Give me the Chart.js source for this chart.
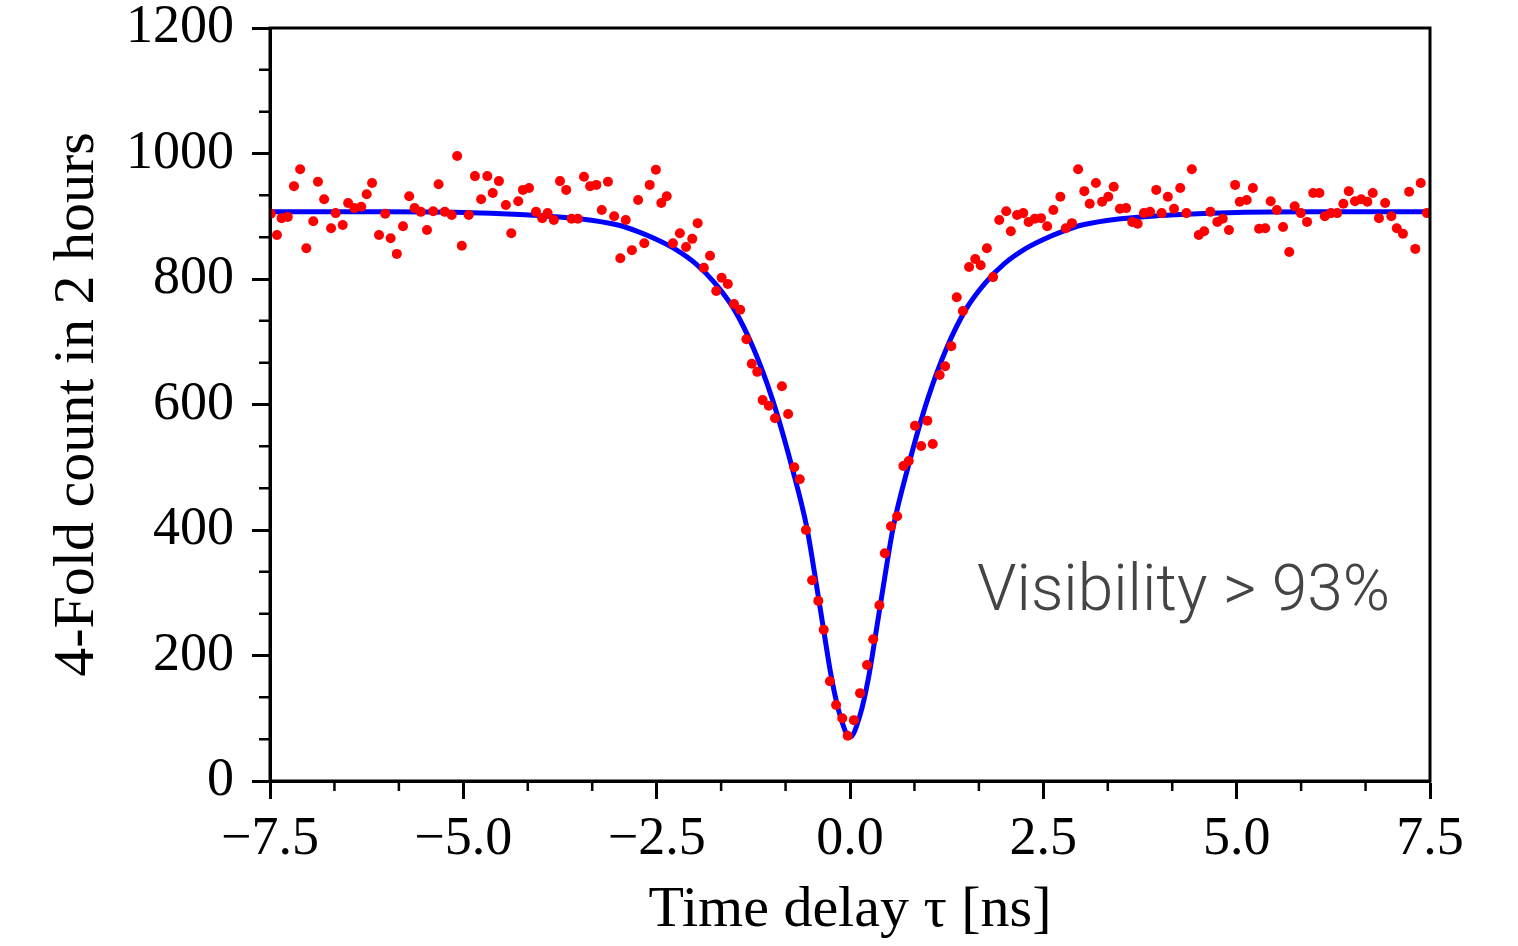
<!DOCTYPE html>
<html>
<head>
<meta charset="utf-8">
<script src="https://cdn.jsdelivr.net/npm/chart.js@4"></script>
<style>
  body { margin: 0; background: #fff; }
  canvas { display: block; }
</style>
</head>
<body>
<canvas id="dipChart" width="1518" height="946"></canvas>
<script>
const timeNs = [
  -7.49, -7.41, -7.35, -7.27, -7.19, -7.11, -7.03, -6.94, -6.88, -6.80,
  -6.71, -6.65, -6.56, -6.49, -6.41, -6.32, -6.25, -6.18, -6.09, -6.01,
  -5.94, -5.86, -5.78, -5.70, -5.63, -5.55, -5.47, -5.39, -5.32, -5.24,
  -5.15, -5.08, -5.02, -4.93, -4.85, -4.77, -4.69, -4.62, -4.54, -4.45,
  -4.38, -4.29, -4.23, -4.15, -4.06, -3.98, -3.91, -3.83, -3.75, -3.67,
  -3.60, -3.52, -3.44, -3.36, -3.28, -3.21, -3.13, -3.05, -2.97, -2.90,
  -2.82, -2.74, -2.66, -2.59, -2.51, -2.44, -2.37, -2.29, -2.20, -2.12,
  -2.04, -1.97, -1.89, -1.81, -1.73, -1.66, -1.58, -1.50, -1.42, -1.34,
  -1.27, -1.20, -1.13, -1.05, -0.97, -0.88, -0.80, -0.72, -0.65, -0.57,
  -0.49, -0.41, -0.34, -0.26, -0.18, -0.10, -0.03, 0.05, 0.13, 0.22,
  0.30, 0.38, 0.45, 0.53, 0.61, 0.69, 0.76, 0.84, 0.92, 1.00,
  1.07, 1.16, 1.23, 1.31, 1.38, 1.46, 1.54, 1.62, 1.69, 1.77,
  1.85, 1.93, 2.02, 2.08, 2.16, 2.24, 2.31, 2.39, 2.47, 2.55,
  2.63, 2.72, 2.79, 2.87, 2.95, 3.03, 3.10, 3.18, 3.26, 3.34,
  3.41, 3.49, 3.57, 3.65, 3.72, 3.80, 3.88, 3.96, 4.03, 4.11,
  4.19, 4.27, 4.35, 4.42, 4.51, 4.58, 4.66, 4.75, 4.82, 4.90,
  4.98, 5.04, 5.13, 5.21, 5.29, 5.37, 5.44, 5.52, 5.60, 5.68,
  5.75, 5.83, 5.91, 5.99, 6.07, 6.14, 6.22, 6.30, 6.38, 6.45,
  6.53, 6.61, 6.69, 6.76, 6.84, 6.92, 7.00, 7.07, 7.15, 7.23,
  7.31, 7.38, 7.46
];
const counts = [
  904, 870, 897, 899, 948, 975, 849, 892, 955, 927,
  881, 905, 886, 921, 913, 915, 935, 953, 870, 904,
  865, 840, 884, 932, 913, 907, 878, 908, 951, 907,
  902, 996, 853, 902, 964, 927, 964, 937, 956, 918,
  873, 924, 942, 945, 907, 897, 905, 894, 956, 942,
  896, 896, 963, 948, 950, 910, 955, 900, 833, 894,
  846, 926, 857, 950, 974, 921, 932, 857, 873, 851,
  864, 889, 818, 837, 781, 802, 792, 760, 751, 704,
  665, 652, 607, 598, 578, 629, 585, 500, 481, 400,
  320, 287, 241, 159, 121, 100, 72, 97, 140, 185,
  226, 280, 363, 406, 422, 502, 510, 566, 534, 574,
  537, 647, 661, 693, 771, 749, 819, 832, 822, 849,
  803, 894, 908, 876, 902, 905, 891, 896, 897, 884,
  910, 931, 881, 889, 975, 940, 920, 953, 923, 931,
  947, 912, 913, 891, 888, 905, 907, 942, 905, 931,
  912, 945, 905, 975, 870, 876, 907, 891, 896, 878,
  950, 923, 926, 945, 880, 881, 924, 910, 883, 843,
  916, 905, 891, 937, 937, 900, 905, 905, 920, 940,
  924, 927, 923, 937, 897, 921, 900, 881, 872, 939,
  848, 953, 905
];

// fitted curve, sampled from the figure
const fitTime = [-7.5, -6, -5, -4.5, -4, -3.5, -3, -2.75, -2.5, -2.25, -2, -1.75, -1.5, -1.25, -1,
  -0.75, -0.56, -0.45, -0.34, -0.24, -0.13, 0, 0.13, 0.24, 0.34, 0.45, 0.56, 0.75,
  1, 1.25, 1.5, 1.75, 2, 2.25, 2.5, 2.75, 3, 3.5, 4, 4.5, 5, 6, 7.5];
const fitCounts = [907, 907, 906, 904, 901, 896, 886, 876, 863, 847, 825, 794, 752, 690, 607,
  500, 405, 325, 240, 165, 105, 70, 105, 165, 240, 325, 405, 500,
  607, 690, 752, 794, 825, 847, 863, 876, 886, 896, 901, 904, 906, 907, 907];

const xTicks = [-7.5, -5, -2.5, 0, 2.5, 5, 7.5];
const yTicks = [0, 200, 400, 600, 800, 1000, 1200];

const serif = '"Liberation Serif", "DejaVu Serif", serif';

// minor ticks, closed frame and the visibility note
const framePlugin = {
  id: 'frame',
  afterDraw(chart) {
    const { ctx, chartArea: a, scales } = chart;
    ctx.save();
    ctx.strokeStyle = '#000';
    ctx.lineWidth = 3;
    ctx.strokeRect(a.left, a.top, a.right - a.left, a.bottom - a.top);

    ctx.lineWidth = 2.5;
    ctx.beginPath();
    for (let i = 0; i <= 18; i++) {
      if (i % 3 === 0) continue;
      const x = scales.x.getPixelForValue(-7.5 + i * 2.5 / 3);
      ctx.moveTo(x, a.bottom);
      ctx.lineTo(x, a.bottom + 10);
    }
    for (let i = 0; i <= 18; i++) {
      if (i % 3 === 0) continue;
      const y = scales.y.getPixelForValue(i * 200 / 3);
      ctx.moveTo(a.left, y);
      ctx.lineTo(a.left - 11, y);
    }
    ctx.stroke();

    ctx.fillStyle = '#444';
    ctx.font = '300 64px "Roboto", "Liberation Sans", sans-serif';
    ctx.textBaseline = 'alphabetic';
    ctx.fillText('Visibility > 93%', 977, 610);
    ctx.restore();
  }
};

new Chart(document.getElementById('dipChart'), {
  type: 'scatter',
  data: {
    datasets: [
      {
        label: 'data',
        data: timeNs.map((t, i) => ({ x: t, y: counts[i] })),
        backgroundColor: '#ff0000',
        borderColor: '#ff0000',
        pointRadius: 5,
        borderWidth: 0,
        order: 0
      },
      {
        label: 'fit',
        data: fitTime.map((t, i) => ({ x: t, y: fitCounts[i] })),
        showLine: true,
        borderColor: '#0000ff',
        borderWidth: 5,
        pointRadius: 0,
        cubicInterpolationMode: 'monotone',
        order: 1
      }
    ]
  },
  options: {
    responsive: false,
    animation: false,
    layout: { padding: { left: 43, right: 88, top: 28, bottom: 0 } },
    plugins: { legend: { display: false }, tooltip: { enabled: false } },
    scales: {
      x: {
        type: 'linear',
        min: -7.5,
        max: 7.5,
        afterBuildTicks: s => { s.ticks = xTicks.map(v => ({ value: v })); },
        afterFit: s => { s.height = 165; },
        ticks: {
          color: '#000',
          font: { family: serif, size: 54 },
          padding: 8,
          callback: v => (v < 0 ? '\u2212' : '') + Math.abs(v).toFixed(1)
        },
        grid: { drawOnChartArea: false, tickLength: 18, tickWidth: 3, tickColor: '#000' },
        border: { color: '#000', width: 3 },
        title: {
          display: true,
          text: 'Time delay \u03c4 [ns]',
          color: '#000',
          font: { family: serif, size: 58 },
          padding: { top: 0, bottom: 0 }
        }
      },
      y: {
        min: 0,
        max: 1200,
        afterBuildTicks: s => { s.ticks = yTicks.map(v => ({ value: v })); },
        afterFit: s => {
          s.width = 227;
          s.paddingTop = 0;
          s.paddingBottom = 0;
        },
        ticks: {
          color: '#000',
          font: { family: serif, size: 54 },
          padding: 18,
          callback: v => String(v)
        },
        grid: { drawOnChartArea: false, tickLength: 18, tickWidth: 3, tickColor: '#000' },
        border: { color: '#000', width: 3 },
        title: {
          display: true,
          text: '4-Fold count in 2 hours',
          color: '#000',
          font: { family: serif, size: 58 },
          padding: { top: 0, bottom: 0 }
        }
      }
    }
  },
  plugins: [framePlugin]
});
</script>
</body>
</html>
